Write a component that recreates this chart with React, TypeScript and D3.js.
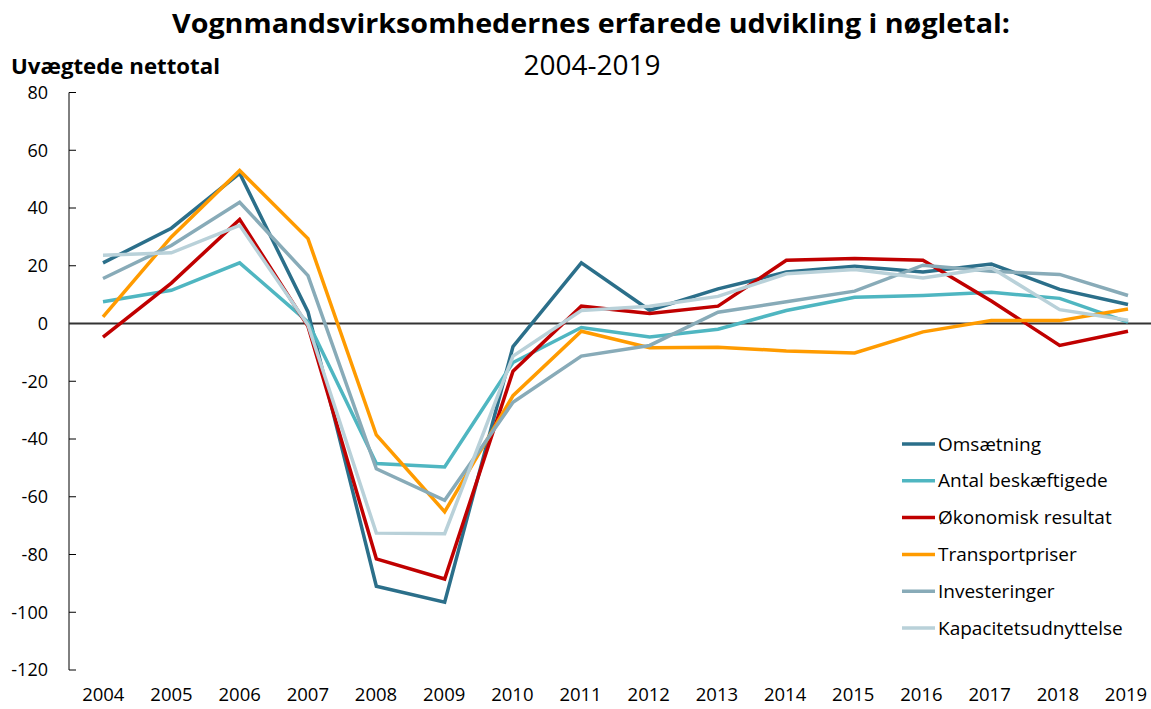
import React from 'react';
import * as d3 from 'd3';

const years = ['2004', '2005', '2006', '2007', '2008', '2009', '2010', '2011', '2012', '2013', '2014', '2015', '2016', '2017', '2018', '2019'];
const seriesNames = ['Omsætning', 'Antal beskæftigede', 'Økonomisk resultat', 'Transportpriser', 'Investeringer', 'Kapacitetsudnyttelse'];
const omsaetning = [21, 33, 52, 4, -91, -96.5, -8, 21, 4.6, 12, 17.8, 19.8, 17.8, 20.6, 11.8, 6.6];
const antalBeskaeftigede = [7.5, 11.5, 21, 0.5, -48.5, -49.7, -13.5, -1.4, -4.7, -2, 4.5, 9.1, 9.7, 10.8, 8.7, 0.5];
const oekonomiskResultat = [-4.7, 14, 36, -1, -81.5, -88.5, -16.5, 6, 3.5, 6, 21.9, 22.5, 21.9, 7.8, -7.6, -2.7];
const transportpriser = [2.3, 30, 53, 29.4, -38.6, -65.2, -25, -2.7, -8.4, -8.2, -9.5, -10.2, -2.9, 1, 1, 5];
const investeringer = [15.6, 27, 42, 16.6, -50.3, -61.2, -27.3, -11.3, -7.6, 3.9, 7.5, 11.2, 20.2, 18.1, 17, 9.7];
const kapacitet = [23.6, 24.5, 34, -0.5, -72.6, -72.8, -11.3, 4.5, 6, 9.4, 17.2, 18.7, 15.8, 19.3, 4.8, 1.1];
const yTicks = [80, 60, 40, 20, 0, -20, -40, -60, -80, -100, -120];

const colors = ['#2b6f8a', '#4fb6c1', '#c00000', '#ff9b00', '#88abb8', '#b9d1d9'];
const allSeries = [omsaetning, antalBeskaeftigede, oekonomiskResultat, transportpriser, investeringer, kapacitet];

const font = '"Open Sans", sans-serif';

export default function App() {
  const width = 1151;
  const height = 709;
  const axisX = 69;
  const x = d3.scalePoint<string>().domain(years).range([103, 1128]);
  const y = d3.scaleLinear().domain([-120, 80]).range([670, 92.5]);
  const line = d3.line<number>().x((d, i) => x(years[i]) as number).y(d => y(d));

  return (
    <svg width={width} height={height} style={{ position: 'absolute', left: 0, top: 0 }} fontFamily={font}>
      <text x={591} y={33} textAnchor="middle" fontSize={27} fontWeight="bold" fill="#000"
        textLength={838} lengthAdjust="spacingAndGlyphs">
        Vognmandsvirksomhedernes erfarede udvikling i nøgletal:
      </text>
      <text x={592} y={75} textAnchor="middle" fontSize={28} fill="#000">2004-2019</text>
      <text x={11} y={74} fontSize={21} fontWeight="bold" fill="#000" textLength={209} lengthAdjust="spacingAndGlyphs">
        Uvægtede nettotal
      </text>

      <line x1={axisX} x2={axisX} y1={y(80)} y2={y(-120)} stroke="#000" strokeWidth={1} />
      {yTicks.map(t => (
        <g key={t}>
          <line x1={axisX} x2={axisX + 7} y1={y(t)} y2={y(t)} stroke="#000" strokeWidth={1} />
          <text x={48} y={y(t)} dy="0.35em" textAnchor="end" fontSize={18} fill="#000">{t}</text>
        </g>
      ))}
      {years.map((yr, i) => (
        <text key={yr} x={103.3 + i * 68.18} y={701} textAnchor="middle" fontSize={18.5} fill="#000">{yr}</text>
      ))}
      <line x1={axisX} x2={width} y1={y(0)} y2={y(0)} stroke="#333" strokeWidth={2} />

      {allSeries.map((s, i) => (
        <path key={i} d={line(s) || ''} fill="none" stroke={colors[i]} strokeWidth={3.5} strokeLinejoin="miter" />
      ))}

      {seriesNames.map((n, i) => {
        const ly = 444 + i * 36.8;
        return (
          <g key={n}>
            <line x1={902} x2={935} y1={ly} y2={ly} stroke={colors[i]} strokeWidth={3.5} />
            <text x={938} y={ly} dy="0.35em" fontSize={19} fill="#000">{n}</text>
          </g>
        );
      })}
    </svg>
  );
}
